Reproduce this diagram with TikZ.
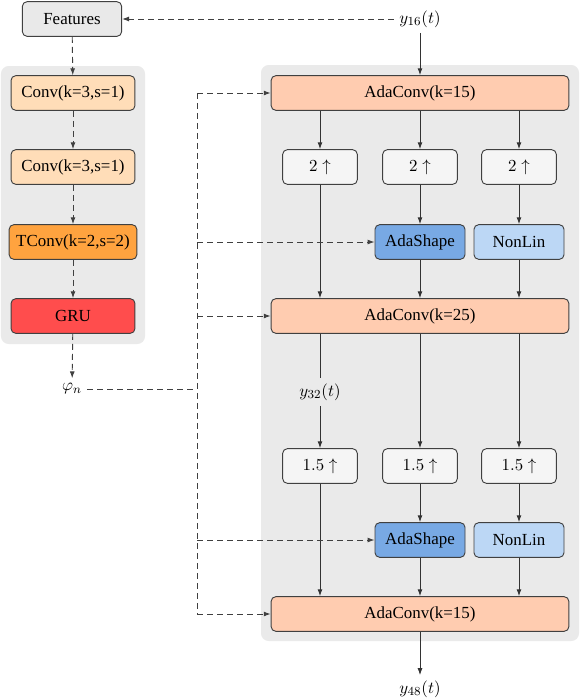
\documentclass[tikz,border=0pt]{standalone}
\usepackage[no-math]{fontspec}
\setmainfont{Liberation Serif}
\newfontfamily\boxfont{Liberation Serif}
\usetikzlibrary{arrows.meta}
\definecolor{panelgray}{HTML}{EAEAEA}
\definecolor{featgray}{HTML}{E9E9E9}
\definecolor{convpeach}{HTML}{FFDDB8}
\definecolor{tconvorange}{HTML}{FFA33F}
\definecolor{grured}{HTML}{FF4D4D}
\definecolor{adapeach}{HTML}{FFCCB0}
\definecolor{upwhite}{HTML}{F5F5F5}
\definecolor{shapeblue}{HTML}{78A9E4}
\definecolor{linblue}{HTML}{BCD7F5}
\begin{document}
\begin{tikzpicture}[x=0.65pt,y=-0.65pt,
    every node/.style={font=\boxfont\fontsize{11}{13.5}\selectfont},
    box/.style={draw=black!75, rounded corners=3pt, line width=0.6pt,
        minimum height=22.5pt, inner sep=2pt},
    convbox/.style={box, fill=convpeach, minimum width=80.5pt},
    adabox/.style={box, fill=adapeach, minimum width=193.5pt},
    upbox/.style={box, fill=upwhite, minimum width=48.5pt},
    smallbox/.style={box, minimum width=58.5pt},
    solidarrow/.style={draw=black!80, line width=0.6pt, -{Latex[length=4.5pt,width=3.2pt]}},
    solidline/.style={draw=black!80, line width=0.6pt},
    dashline/.style={draw=black!75, line width=0.6pt, dash pattern=on 4pt off 2.5pt},
    dasharrow/.style={dashline, -{Latex[length=4.5pt,width=3.2pt]}}]
    \useasboundingbox (0,0) rectangle (580,700);

    % panels
    \fill[panelgray, rounded corners=5pt] (1,66) rectangle (145,344);
    \fill[panelgray, rounded corners=5pt] (261,65) rectangle (579,641);

    % feature encoder
    \node[box, fill=featgray, minimum width=64.5pt] (feat) at (72,19) {Features};
    \node[convbox] (conv1) at (73,93) {Conv(k=3,s=1)};
    \node[convbox] (conv2) at (73,167) {Conv(k=3,s=1)};
    \node[convbox, fill=tconvorange, minimum width=83pt] (tconv) at (73,242) {TConv(k=2,s=2)};
    \node[convbox, fill=grured] (gru) at (73,316) {GRU};
    \node (phi) at (72,389) {$\varphi_n$};

    \draw[dasharrow] (feat) -- (conv1);
    \draw[dasharrow] (conv1) -- (conv2);
    \draw[dasharrow] (conv2) -- (tconv);
    \draw[dasharrow] (tconv) -- (gru);
    \draw[dasharrow] (gru) -- (phi);

    % upsampling stack
    \node (y16) at (420,19) {$y_{16}(t)$};
    \node[adabox] (ac1) at (420,93) {AdaConv(k=15)};
    \foreach \i/\x in {1/320,2/420,3/519}
        \node[upbox] (u\i) at (\x,167) {$2\uparrow$};
    \node[smallbox, fill=shapeblue] (as1) at (420,242) {AdaShape};
    \node[smallbox, fill=linblue] (nl1) at (519,242) {NonLin};
    \node[adabox] (ac2) at (420,316) {AdaConv(k=25)};
    \node (y32) at (320,392) {$y_{32}(t)$};
    \foreach \i/\x in {1/320,2/420,3/519}
        \node[upbox] (v\i) at (\x,466) {$1.5\uparrow$};
    \node[smallbox, fill=shapeblue] (as2) at (420,540) {AdaShape};
    \node[smallbox, fill=linblue] (nl2) at (519,540) {NonLin};
    \node[adabox] (ac3) at (420,614) {AdaConv(k=15)};
    \node (y48) at (420,689) {$y_{48}(t)$};

    \draw[dasharrow] (y16) -- (feat);
    \draw[solidarrow] (y16) -- (ac1);
    \foreach \i in {1,2,3}
        \draw[solidarrow] (ac1.south -| u\i) -- (u\i);
    \draw[solidarrow] (u1) -- (ac2.north -| u1);
    \draw[solidarrow] (u2) -- (as1); \draw[solidarrow] (as1) -- (ac2.north -| as1);
    \draw[solidarrow] (u3) -- (nl1); \draw[solidarrow] (nl1) -- (ac2.north -| nl1);
    \draw[solidline] (ac2.south -| y32) -- (y32);
    \draw[solidarrow] (y32) -- (v1);
    \draw[solidarrow] (ac2.south -| v2) -- (v2);
    \draw[solidarrow] (ac2.south -| v3) -- (v3);
    \draw[solidarrow] (v1) -- (ac3.north -| v1);
    \draw[solidarrow] (v2) -- (as2); \draw[solidarrow] (as2) -- (ac3.north -| as2);
    \draw[solidarrow] (v3) -- (nl2); \draw[solidarrow] (nl2) -- (ac3.north -| nl2);
    \draw[solidarrow] (ac3) -- (y48);

    % conditioning bus
    \coordinate (bus) at (197,390);
    \draw[dashline] (phi) -- (phi -| bus);
    \draw[dashline] (bus |- ac1) -- (bus |- ac3);
    \foreach \t in {ac1,as1,ac2,as2,ac3}
        \draw[dasharrow] (bus |- \t.west) -- (\t.west);
\end{tikzpicture}
\end{document}
